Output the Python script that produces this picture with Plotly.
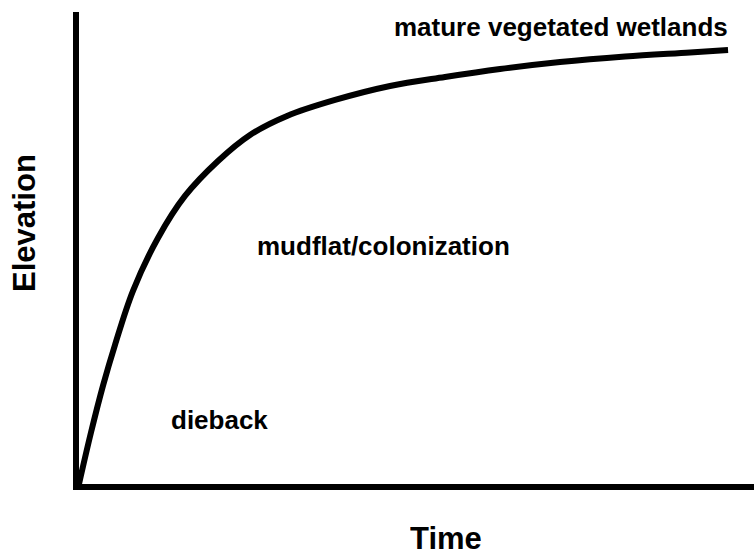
import plotly.graph_objects as go

# Curve (Time, Elevation) in arbitrary units
time_vals = [0, 1.85, 3.70, 5.55, 8.32, 12.17, 16.33, 21.42, 26.35, 32.05,
             39.45, 47.92, 56.39, 64.87, 74.11, 84.13, 94.15, 100.0]
elev_vals = [0, 11.86, 22.62, 32.00, 44.41, 56.55, 66.21, 74.25, 80.23, 84.60,
             88.28, 91.49, 93.56, 95.40, 97.01, 98.28, 99.20, 99.77]

# Stage labels and their positions (data units)
stage_labels = ["mature vegetated wetlands", "mudflat/colonization", "dieback"]
stage_x = [48.2, 27.1, 13.85]
stage_y = [105.1, 54.6, 14.6]

x_title = "Time"
y_title = "Elevation"

FONT = "Liberation Sans, Arial, Helvetica, sans-serif"

fig = go.Figure()
fig.add_trace(go.Scatter(
    x=time_vals, y=elev_vals, mode="lines",
    line=dict(color="black", width=6, shape="spline", smoothing=1.0),
    hoverinfo="skip", showlegend=False,
))

for txt, xx, yy in zip(stage_labels, stage_x, stage_y):
    fig.add_annotation(x=xx, y=yy, xref="x", yref="y", text=txt,
                       showarrow=False, xanchor="left", yanchor="middle",
                       font=dict(family=FONT, size=26, color="black", weight="bold"))

fig.add_annotation(x=-0.08, y=0.553, xref="paper", yref="paper", text=y_title,
                   textangle=-90, showarrow=False, xanchor="center", yanchor="middle",
                   font=dict(family=FONT, size=31, color="black", weight="bold"))
fig.add_annotation(x=0.5437, y=-0.1150, xref="paper", yref="paper", text=x_title,
                   showarrow=False, xanchor="center", yanchor="middle",
                   height=30, valign="middle", borderpad=0,
                   font=dict(family=FONT, size=31, color="black", weight="bold"))

axis_common = dict(showgrid=False, zeroline=False, showticklabels=False, ticks="",
                   showline=True, linecolor="black", linewidth=6, fixedrange=True)
fig.update_xaxes(range=[0, 104.0], **axis_common)
fig.update_yaxes(range=[0, 108.5], **axis_common)

fig.update_layout(
    width=754, height=557,
    margin=dict(l=79, r=0, t=12, b=73),
    paper_bgcolor="white", plot_bgcolor="white",
    showlegend=False,
)

fig.write_html("out.html", config={"displayModeBar": False},
               post_script="document.body.style.margin='0';")
